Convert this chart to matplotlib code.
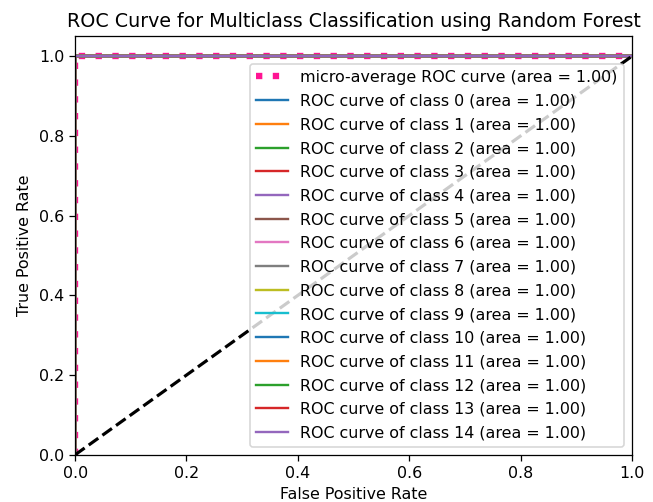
import matplotlib
matplotlib.use("Agg")
import matplotlib.pyplot as plt

classes = list(range(15))
class_auc = [1.00] * 15
micro_auc = 1.00
fpr_curve = [0.0, 0.0, 1.0]
tpr_curve = [0.0, 1.0, 1.0]
chance = [0.0, 1.0]
colors = ['tab:blue', 'tab:orange', 'tab:green', 'tab:red', 'tab:purple',
          'tab:brown', 'tab:pink', 'tab:gray', 'tab:olive', 'tab:cyan',
          'tab:blue', 'tab:orange', 'tab:green', 'tab:red', 'tab:purple']

fig = plt.figure(figsize=(653/114, 502/114), dpi=114)
ax = fig.add_axes([0.115, 0.094, 0.853, 0.834])

ax.plot(fpr_curve, tpr_curve, label=f'micro-average ROC curve (area = {micro_auc:.2f})',
        color='deeppink', linestyle=':', linewidth=4)
for c, a, col in zip(classes, class_auc, colors):
    ax.plot(fpr_curve, tpr_curve, color=col, lw=1.5,
            label=f'ROC curve of class {c} (area = {a:.2f})')
ax.plot(chance, chance, 'k--', lw=2)
ax.set_xlim([0.0, 1.0])
ax.set_ylim([0.0, 1.05])
ax.set_xlabel('False Positive Rate')
ax.set_ylabel('True Positive Rate')
ax.set_title('ROC Curve for Multiclass Classification using Random Forest')
ax.legend(loc='lower right', labelspacing=0.55)
fig.savefig('out.png', dpi=114)
